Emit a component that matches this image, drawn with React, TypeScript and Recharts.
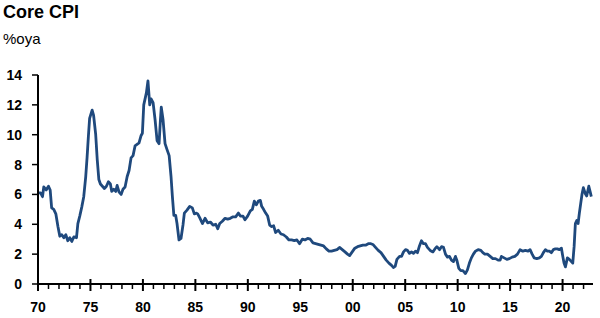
import { LineChart, Line, XAxis, YAxis } from 'recharts'

// Core CPI, %oya (fractional year, value)
const dates70s = [
  1970.0, 1970.24, 1970.43, 1970.55, 1970.78, 1971.0, 1971.16, 1971.3, 1971.5, 1971.7,
  1971.9, 1972.08, 1972.27, 1972.46, 1972.65, 1972.84, 1973.03, 1973.22, 1973.41, 1973.67,
  1973.8, 1973.98, 1974.17, 1974.36, 1974.55, 1974.68, 1974.8, 1974.92, 1975.16, 1975.3,
  1975.5, 1975.65, 1975.8, 1975.95, 1976.14, 1976.33, 1976.52, 1976.71, 1976.9, 1977.03,
  1977.22, 1977.41, 1977.54, 1977.73, 1977.92, 1978.1, 1978.3, 1978.5, 1978.68, 1978.87,
  1979.06, 1979.25, 1979.44, 1979.63, 1979.83,
]
const cpi70s = [
  6.1, 6.1, 5.85, 6.5, 6.3, 6.55, 6.3, 5.1, 5.0, 4.7,
  3.85, 3.2, 3.3, 3.1, 3.3, 2.9, 3.1, 2.85, 3.15, 3.1,
  4.05, 4.55, 5.15, 5.85, 7.2, 8.5, 9.85, 11.1, 11.65, 11.3,
  10.0, 8.3, 7.0, 6.7, 6.55, 6.4, 6.55, 6.85, 6.7, 6.2,
  6.35, 6.2, 6.6, 6.15, 6.0, 6.35, 6.5, 7.2, 7.6, 8.45,
  8.6, 9.25, 9.35, 9.45, 9.95,
]

const dates80s = [
  1979.95, 1980.08, 1980.33, 1980.48, 1980.65, 1980.78, 1980.97, 1981.16, 1981.35, 1981.54,
  1981.67, 1981.75, 1981.92, 1982.11, 1982.3, 1982.5, 1982.68, 1982.81, 1982.95, 1983.12,
  1983.25, 1983.44, 1983.63, 1983.82, 1983.95, 1984.2, 1984.46, 1984.71, 1984.9, 1985.1,
  1985.22, 1985.41, 1985.67, 1985.92, 1986.17, 1986.43, 1986.68, 1986.94, 1987.13, 1987.32,
  1987.57, 1987.83, 1988.08, 1988.33, 1988.59, 1988.84, 1989.1, 1989.29, 1989.54, 1989.73,
  1989.98,
]
const cpi80s = [
  10.1, 12.0, 12.8, 13.6, 12.0, 12.4, 12.15, 11.0, 9.6, 9.4,
  11.0, 11.85, 11.0, 9.4, 9.0, 8.6, 7.2, 5.85, 4.6, 4.6,
  4.05, 2.95, 3.05, 3.95, 4.75, 4.95, 5.2, 5.1, 4.7, 4.75,
  4.7, 4.45, 4.05, 4.4, 4.1, 4.15, 3.95, 4.0, 3.7, 4.05,
  4.2, 4.4, 4.35, 4.4, 4.5, 4.5, 4.75, 4.55, 4.55, 4.3,
  4.55,
]

const dates90s = [
  1990.24, 1990.43, 1990.62, 1990.81, 1991.0, 1991.19, 1991.32, 1991.5, 1991.7, 1991.89,
  1992.08, 1992.27, 1992.46, 1992.65, 1992.9, 1993.16, 1993.4, 1993.67, 1993.92, 1994.17,
  1994.43, 1994.68, 1994.93, 1995.19, 1995.44, 1995.7, 1995.95, 1996.21, 1996.46, 1996.71,
  1996.97, 1997.22, 1997.48, 1997.73, 1997.98, 1998.24, 1998.5, 1998.74, 1999.0, 1999.26,
  1999.5, 1999.7, 1999.95,
]
const cpi90s = [
  4.9, 5.0, 5.55, 5.3, 5.55, 5.6, 5.2, 5.0, 4.75, 4.55,
  3.95, 3.85, 3.9, 3.45, 3.6, 3.35, 3.3, 3.15, 2.95, 2.95,
  2.9, 2.95, 2.7, 3.0, 2.95, 3.05, 3.0, 2.75, 2.7, 2.65,
  2.6, 2.55, 2.35, 2.2, 2.2, 2.25, 2.3, 2.45, 2.3, 2.15,
  2.0, 1.9, 2.15,
]

const dates00s = [
  2000.2, 2000.46, 2000.71, 2000.97, 2001.22, 2001.48, 2001.73, 2001.92, 2002.17, 2002.43,
  2002.69, 2002.94, 2003.19, 2003.45, 2003.7, 2003.89, 2004.05, 2004.21, 2004.46, 2004.65,
  2004.84, 2005.03, 2005.22, 2005.41, 2005.6, 2005.79, 2005.98, 2006.17, 2006.36, 2006.55,
  2006.74, 2006.93, 2007.12, 2007.38, 2007.64, 2007.83, 2008.02, 2008.27, 2008.46, 2008.65,
  2008.84, 2009.03, 2009.22, 2009.41, 2009.6, 2009.79, 2009.92,
]
const cpi00s = [
  2.4, 2.5, 2.55, 2.6, 2.6, 2.7, 2.7, 2.65, 2.45, 2.25,
  2.1, 1.85, 1.6, 1.4, 1.25, 1.1, 1.2, 1.65, 1.85, 1.85,
  2.15, 2.3, 2.25, 2.05, 2.15, 2.05, 2.2, 2.1, 2.55, 2.9,
  2.7, 2.7, 2.45, 2.25, 2.15, 2.35, 2.5, 2.3, 2.5, 2.45,
  2.0, 1.8, 1.85, 1.6, 1.5, 1.85, 1.6,
]

const dates10s = [
  2010.11, 2010.3, 2010.5, 2010.74, 2010.93, 2011.12, 2011.31, 2011.5, 2011.7, 2011.95,
  2012.21, 2012.4, 2012.59, 2012.84, 2013.1, 2013.35, 2013.6, 2013.86, 2014.05, 2014.17,
  2014.43, 2014.69, 2014.93, 2015.19, 2015.45, 2015.7, 2015.95, 2016.21, 2016.46, 2016.71,
  2016.9, 2017.1, 2017.29, 2017.54, 2017.79, 2017.98, 2018.17, 2018.36, 2018.55, 2018.74,
  2018.93, 2019.12, 2019.31, 2019.5, 2019.69, 2019.89,
]
const cpi10s = [
  1.05, 0.9, 0.9, 0.7, 0.95, 1.4, 1.75, 2.0, 2.2, 2.3,
  2.25, 2.1, 2.0, 2.0, 1.85, 1.7, 1.7, 1.6, 1.6, 1.85,
  1.75, 1.65, 1.7, 1.8, 1.85, 2.0, 2.3, 2.2, 2.25, 2.2,
  2.3, 2.0, 1.75, 1.7, 1.75, 1.85, 2.1, 2.3, 2.2, 2.2,
  2.1, 2.3, 2.35, 2.35, 2.3, 2.4,
]

const dates20s = [
  2020.02, 2020.14, 2020.27, 2020.46, 2020.65, 2020.84, 2020.97, 2021.1, 2021.22, 2021.35,
  2021.48, 2021.6, 2021.73, 2021.86, 2021.98, 2022.17, 2022.3, 2022.5, 2022.62, 2022.74,
]
const cpi20s = [
  1.85, 1.4, 1.15, 1.75, 1.65, 1.5, 1.4, 2.5, 4.05, 4.25,
  4.05, 4.75, 5.4, 6.05, 6.45, 6.05, 5.9, 6.55, 6.2, 5.85,
]

const yTicks = [0, 2, 4, 6, 8, 10, 12, 14]
const firstYear = 1970
const lastYear = 2022

const allDates = [...dates70s, ...dates80s, ...dates90s, ...dates00s, ...dates10s, ...dates20s]
const allValues = [...cpi70s, ...cpi80s, ...cpi90s, ...cpi00s, ...cpi10s, ...cpi20s]
const data = allDates.map((t, i) => ({ t, v: allValues[i] }))

const yearTicks: number[] = []
for (let y = firstYear; y <= lastYear; y++) yearTicks.push(y)

const FONT = '"Liberation Sans", Arial, sans-serif'
const LINE_COLOR = '#1F497D'

// eslint-disable-next-line @typescript-eslint/no-explicit-any
function YearTick(props: any) {
  const { x, y, payload } = props
  const year: number = payload.value
  const major = year % 5 === 0
  return (
    <g>
      <line
        x1={x}
        x2={x}
        y1={major ? y - 5 : y}
        y2={major ? y + 7 : y + 5}
        stroke="#000"
        strokeWidth={major ? 2 : 1.5}
      />
      {major && (
        <text
          x={x}
          y={y + 28}
          textAnchor="middle"
          fontFamily={FONT}
          fontWeight="bold"
          fontSize={14}
          fill="#000"
        >
          {String(year % 100).padStart(2, '0')}
        </text>
      )}
    </g>
  )
}

export default function App() {
  return (
    <div style={{ position: 'absolute', left: 0, top: 0, width: 600, height: 318, background: '#fff' }}>
      <div
        style={{
          position: 'absolute',
          left: 3,
          top: 2,
          fontFamily: FONT,
          fontWeight: 'bold',
          fontSize: 18,
          lineHeight: '20px',
          color: '#000',
        }}
      >
        Core CPI
      </div>
      <div
        style={{
          position: 'absolute',
          left: 3,
          top: 30,
          fontFamily: FONT,
          fontSize: 15,
          lineHeight: '18px',
          color: '#000',
        }}
      >
        %oya
      </div>
      <LineChart
        width={600}
        height={318}
        data={data}
        margin={{ top: 75, right: 7, bottom: 0, left: 0 }}
      >
        <XAxis
          dataKey="t"
          type="number"
          domain={[1970, 2022.9]}
          ticks={yearTicks}
          interval={0}
          height={34}
          tickSize={0}
          tickMargin={0}
          tickLine={false}
          axisLine={{ stroke: '#000', strokeWidth: 2 }}
          tick={<YearTick />}
          allowDataOverflow
        />
        <YAxis
          type="number"
          domain={[0, 14]}
          ticks={yTicks}
          interval={0}
          width={38}
          tickSize={6}
          tickMargin={10}
          tickLine={{ stroke: '#000', strokeWidth: 1.5 }}
          axisLine={{ stroke: '#000', strokeWidth: 2 }}
          tick={{ fontFamily: FONT, fontWeight: 'bold', fontSize: 14, fill: '#000' }}
        />
        <Line
          type="linear"
          dataKey="v"
          stroke={LINE_COLOR}
          strokeWidth={2.8}
          strokeLinejoin="round"
          dot={false}
          isAnimationActive={false}
        />
      </LineChart>
    </div>
  )
}
